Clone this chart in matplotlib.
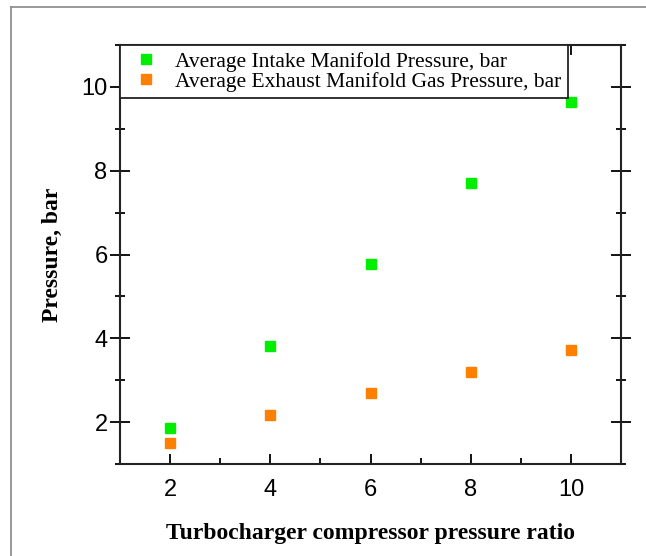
import matplotlib
matplotlib.use("Agg")
import matplotlib.pyplot as plt
from matplotlib.ticker import MultipleLocator
from matplotlib.lines import Line2D

ratio = [2, 4, 6, 8, 10]
intake = [1.87, 3.82, 5.77, 7.71, 9.65]
exhaust = [1.51, 2.16, 2.69, 3.19, 3.71]
labels = ["Average Intake Manifold Pressure, bar",
          "Average Exhaust Manifold Gas Pressure, bar"]

fig = plt.figure(figsize=(6.46, 5.56), dpi=100)
# figure frame
fig.add_artist(Line2D([11/646, 11/646], [0, 1 - 7/556], color="#888888", lw=1.2, transform=fig.transFigure))
fig.add_artist(Line2D([11/646, 1], [1 - 7/556, 1 - 7/556], color="#888888", lw=1.2, transform=fig.transFigure))

ax = fig.add_axes([120/646, 1 - 464/556, 501/646, 419/556])
ax.plot(ratio, intake, ls="none", marker="s", ms=7, color="#00ee00", label=labels[0])
ax.plot(ratio, exhaust, ls="none", marker="s", ms=7, mec="#ff8000", mfc="#ff8000", label=labels[1])

ax.set_xlim(1, 11)
ax.set_ylim(1, 11)
ax.xaxis.set_major_locator(MultipleLocator(2))
ax.xaxis.set_minor_locator(MultipleLocator(1))
ax.yaxis.set_major_locator(MultipleLocator(2))
ax.yaxis.set_minor_locator(MultipleLocator(1))
ax.set_xticks([2, 4, 6, 8, 10])
ax.set_yticks([2, 4, 6, 8, 10])

for s in ax.spines.values():
    s.set_linewidth(1.5)
    s.set_color("#222222")

ax.tick_params(axis="x", which="major", direction="in", length=7, width=1.3, top=True, labelsize=17, pad=11)
ax.tick_params(axis="x", which="minor", direction="in", length=4, width=1.3, top=True)
ax.tick_params(axis="y", which="major", direction="inout", length=14, width=1.3, right=True, labelsize=17, pad=2)
ax.tick_params(axis="y", which="minor", direction="inout", length=7, width=1.3, right=True)
for lab in ax.get_xticklabels() + ax.get_yticklabels():
    lab.set_family("Liberation Sans")

ax.set_xlabel("Turbocharger compressor pressure ratio", family="Liberation Serif",
              fontweight="bold", fontsize=17, labelpad=16)
ax.set_ylabel("Pressure, bar", family="Liberation Serif", fontweight="bold", fontsize=17, labelpad=13)

leg = ax.legend(loc="upper left", bbox_to_anchor=(0.0, 1.0), prop={"family": "Liberation Serif", "size": 15.5},
                frameon=True, fancybox=False, borderaxespad=0, edgecolor="#222222",
                handlelength=1.8, handletextpad=0.45, borderpad=0.3, labelspacing=0.0,
                markerscale=1.0)
leg.get_frame().set_linewidth(1.3)
leg.get_frame().set_alpha(1)
leg.set_zorder(5)

fig.savefig("out.png", dpi=100)
